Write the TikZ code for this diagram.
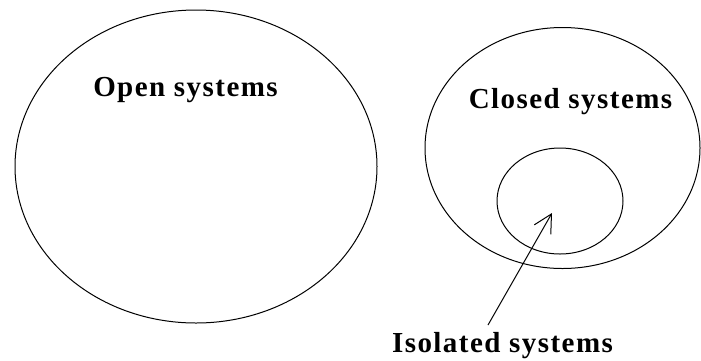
\documentclass[tikz,border=0pt]{standalone}
\usepackage{fontspec}
\setmainfont{Liberation Serif}
\newfontfamily\setsfont{Liberation Serif}[LetterSpace=5]
\usepackage{tikz}
\usetikzlibrary{arrows.meta,shapes.geometric}

\begin{document}
\begin{tikzpicture}[x=1pt,y=-1pt,>={Straight Barb[length=18pt,width=19pt]},
  sysset/.style={draw,ellipse,line width=1pt,inner sep=0pt},
  syslbl/.style={font=\setsfont\bfseries\fontsize{29}{34}\selectfont,inner sep=0pt,anchor=base}]
\useasboundingbox (0,0) rectangle (701,360);
% the three sets
\node[sysset,minimum width=362pt,minimum height=313pt] (open) at (196,166.5) {};
\node[sysset,minimum width=275pt,minimum height=241pt] (closed) at (562.5,148) {};
\node[sysset,minimum width=126pt,minimum height=106pt] (isolated) at (560,201) {};
% labels
\node[syslbl] (opentxt) at (185.5,96) {Open systems};
\node[syslbl] (closedtxt) at (570.5,108) {Closed systems};
\node[syslbl] (isolatedtxt) at (502.5,352) {Isolated systems};
\coordinate (tail) at (488,325);
\coordinate (tip) at (552,213);
\draw[->,line width=1pt] (tail)--(tip);
\end{tikzpicture}
\end{document}
